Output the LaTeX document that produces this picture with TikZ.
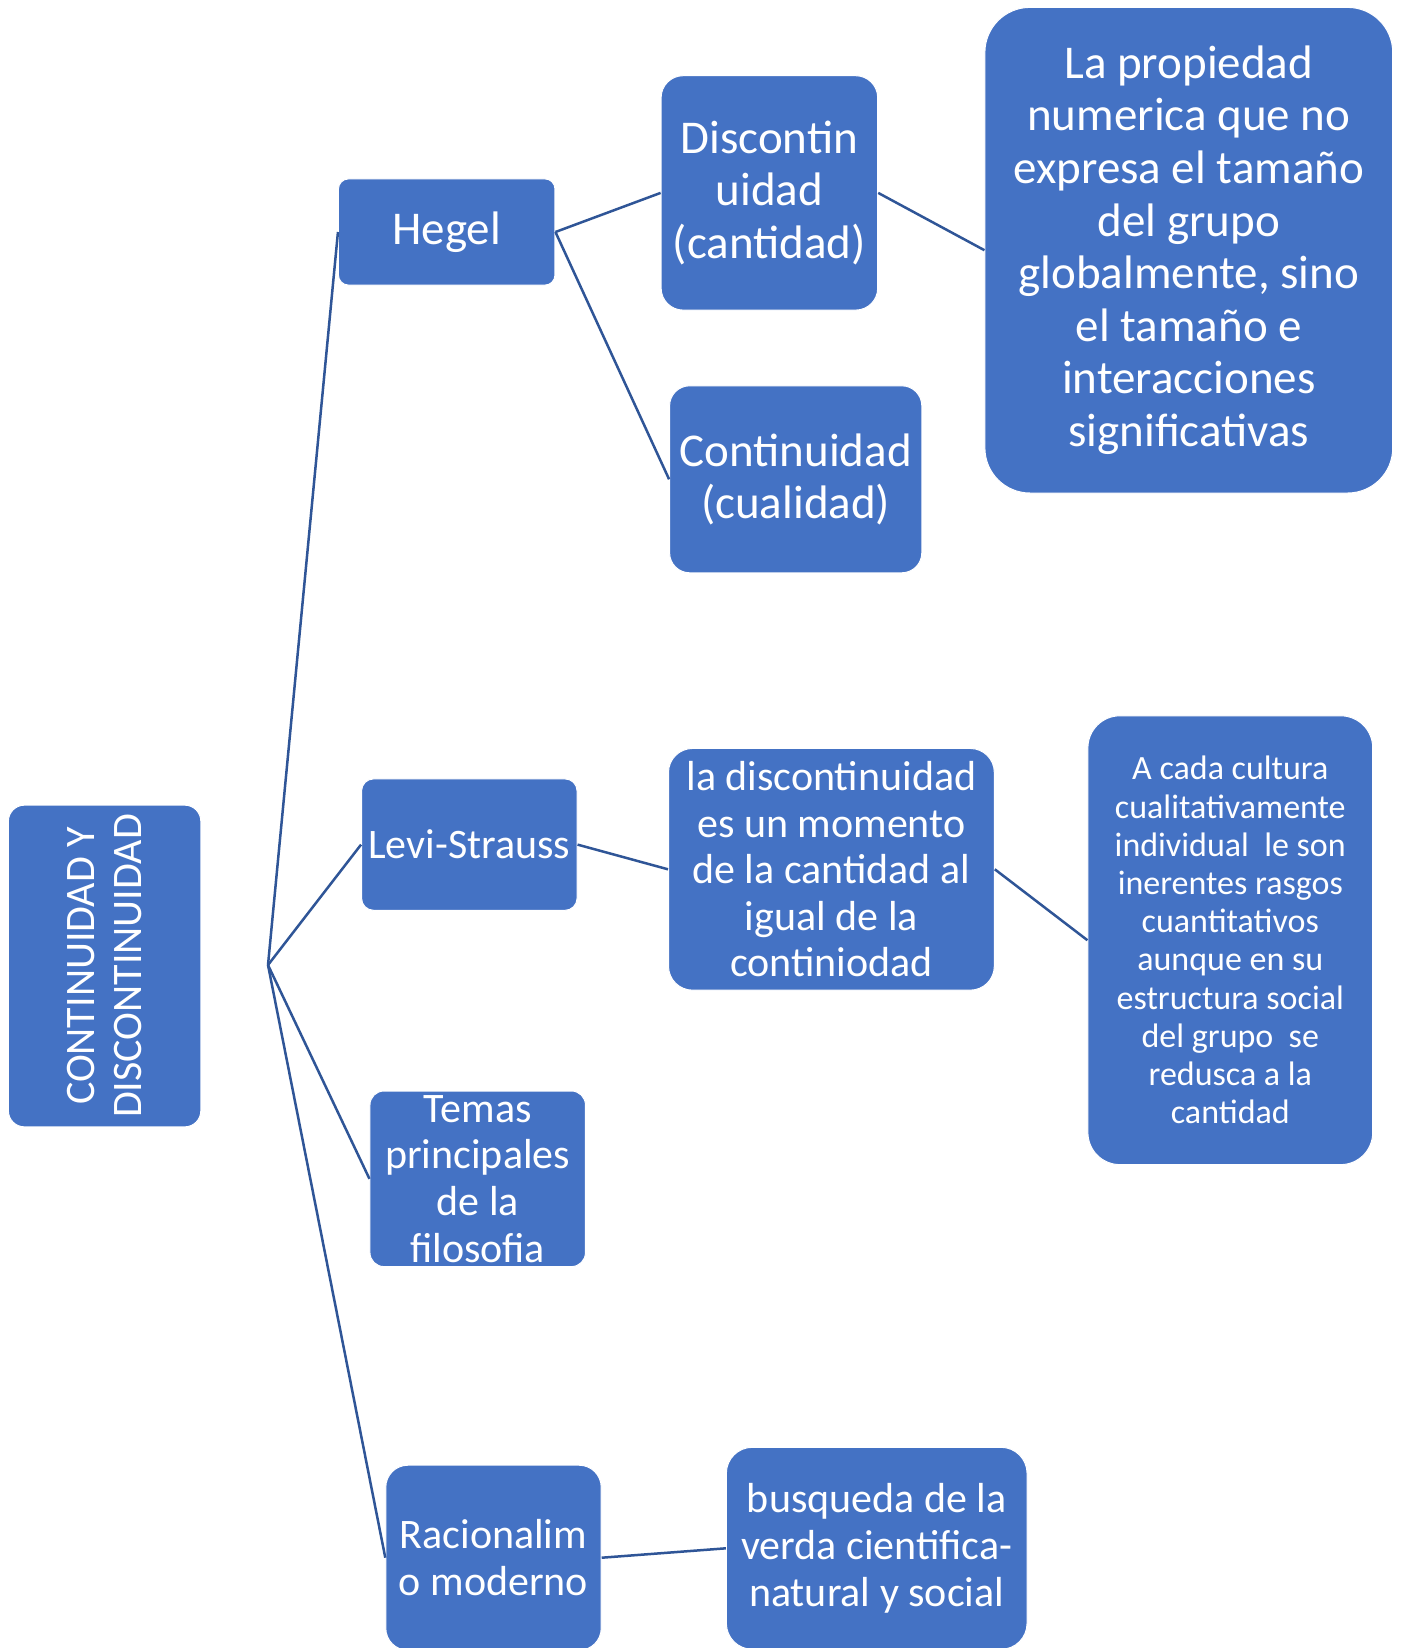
\documentclass[tikz,border=0pt]{standalone}
\usepackage{fontspec}
\setmainfont{Carlito}
\definecolor{boxblue}{HTML}{4472C4}
\definecolor{linkblue}{HTML}{2F5597}
\tikzset{
  box/.style={draw=white, line width=1pt, fill=boxblue, text=white, align=center, inner sep=0pt},
  big/.style={font=\fontsize{47}{52.6}\selectfont},
  mid/.style={font=\fontsize{42}{46.6}\selectfont},
  small/.style={font=\fontsize{34}{38.2}\selectfont},
  link/.style={draw=linkblue, line width=2.5pt},
}
\begin{document}
\begin{tikzpicture}[x=1pt,y=-1pt]
\useasboundingbox (0,0) rectangle (1400,1648);
\clip (0,0) rectangle (1400,1648);
\fill[white] (0,0) rectangle (1400,1648);

\node[box, mid, rotate=90, minimum width=321.7pt, minimum height=192.4pt, rounded corners=16pt] (root) at (104.6,966) {CONTINUIDAD Y\\DISCONTINUIDAD};

\node[box, big, minimum width=216.5pt, minimum height=106.2pt, rounded corners=10pt] (hegel) at (446.7,232) {Hegel};
\node[box, big, minimum width=216.6pt, minimum height=234.4pt, rounded corners=22pt] (disc) at (769.4,192.9) {Discontin\\uidad\\(cantidad)};
\node[box, big, minimum width=407.8pt, minimum height=485.6pt, rounded corners=45pt] (prop) at (1188.8,250.2) {La propiedad\\numerica que no\\expresa el tama\~no\\del grupo\\globalmente, sino\\el tama\~no e\\interacciones\\significativas};
\node[box, big, minimum width=252.2pt, minimum height=187pt, rounded corners=20pt] (cont) at (795.7,479.3) {Continuidad\\(cualidad)};

\node[box, mid, minimum width=215.5pt, minimum height=131.4pt, rounded corners=12pt] (levi) at (469.3,844.6) {Levi-Strauss};
\node[box, mid, minimum width=325.8pt, minimum height=241.7pt, rounded corners=24pt] (ladisc) at (831.4,869.3) {la discontinuidad\\es un momento\\de la cantidad al\\igual de la\\continiodad};
\node[box, small, minimum width=284.8pt, minimum height=448.8pt, rounded corners=32pt] (acada) at (1230.3,940.2) {A cada cultura\\cualitativamente\\individual\ \ le son\\inerentes rasgos\\cuantitativos\\aunque en su\\estructura social\\del grupo\ \ se\\redusca a la\\cantidad};

\node[box, mid, minimum width=215.5pt, minimum height=175.6pt, rounded corners=14pt] (temas) at (477.7,1178.8) {Temas\\principales\\de la\\filosofia};

\node[box, mid, minimum width=215.4pt, minimum height=185pt, rounded corners=22pt] (racio) at (493.5,1557.7) {Racionalim\\o moderno};
\node[box, mid, minimum width=300.7pt, minimum height=202pt, rounded corners=26pt] (busq) at (876.7,1548.3) {busqueda de la\\verda cientifica-\\natural y social};

\coordinate (hub) at (268,965);
\draw[link] (hub) -- (hegel.west);
\draw[link] (hub) -- (levi.west);
\draw[link] (hub) -- (temas.west);
\draw[link] (hub) -- (racio.west);
\draw[link] (hegel.east) -- (disc.west);
\draw[link] (hegel.east) -- (cont.west);
\draw[link] (disc.east) -- (prop.west);
\draw[link] (levi.east) -- (ladisc.west);
\draw[link] (ladisc.east) -- (acada.west);
\draw[link] (racio.east) -- (busq.west);
\end{tikzpicture}
\end{document}
